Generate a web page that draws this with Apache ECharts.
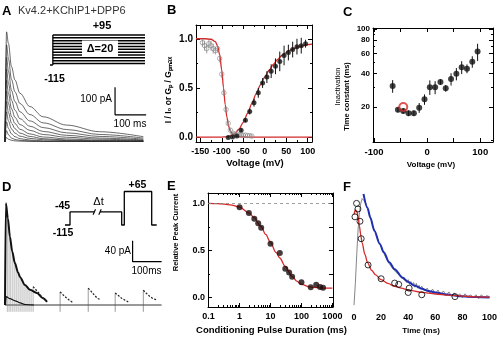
<!DOCTYPE html>
<html><head><meta charset="utf-8">
<script src="https://cdn.jsdelivr.net/npm/echarts@6/dist/echarts.min.js"></script>
<style>html,body{margin:0;padding:0;background:#fff}#c{width:500px;height:338px}</style>
</head><body><div id="c"></div>
<script>
// ================= DATA =================
// Panel A: current traces (time ms, current pA)
const aTime = [0, 5, 11, 21, 32, 48, 80, 123, 198, 305, 445];
const aTrace1 = [0, 397, 355, 271, 223, 175, 127, 90, 60, 36, 18];
const aTrace2 = [0, 350, 300, 225, 180, 138, 98, 68, 44, 26, 13];
const aTrace3 = [0, 305, 255, 185, 145, 108, 75, 51, 32, 19, 9];
const aTrace4 = [0, 262, 212, 150, 114, 83, 56, 37, 23, 13, 6];
const aTrace5 = [0, 222, 174, 119, 88, 62, 41, 26, 16, 9, 4];
const aTrace6 = [0, 182, 138, 91, 66, 45, 28, 17, 10, 5, 3];
const aTrace7 = [0, 145, 105, 67, 47, 31, 19, 11, 6, 3, 2];
const aTrace8 = [0, 108, 75, 46, 31, 20, 12, 7, 4, 2, 1];
const aTrace9 = [0, 72, 48, 28, 18, 11, 6, 3, 2, 1, 0];
const aTrace10 = [0, 40, 25, 13, 8, 5, 3, 1, 1, 0, 0];
const aTrace11 = [0, 15, 9, 5, 3, 2, 1, 0, 0, 0, 0];
const aScale = {t: 354, i: 97, dt: 100, di: 100};
// Panel A protocol (mV)
const aHolding = -115;
const aStepLevels = [-105, -85, -65, -45, -25, -5, 15, 35, 55, 75, 95];
const aProtoT = [0, 3, 100];

// Panel B: inactivation (open) and activation (filled)
const bInactV = [-145,-140,-135,-130,-125,-120,-115,-110,-105,-100,-95,-90,-85,-80,-75,-70,-65,-60,-55,-50,-45,-40,-35,-30];
const bInactI = [0.96,0.93,0.9,0.95,0.93,0.9,0.88,0.9,0.8,0.64,0.45,0.28,0.14,0.07,0.04,0.03,0.03,0.02,0.02,0.02,0.02,0.015,0.015,0.01];
const bInactErr = [0.04,0.05,0.05,0.04,0.05,0.05,0.04,0.04,0.04,0.04,0.03,0.03,0.02,0.02,0.01,0.01,0.01,0.01,0.01,0.01,0.01,0.01,0.01,0.01];
const bActV = [-85,-75,-65,-55,-45,-35,-25,-15,-5,5,15,25,35,45,55,65,75,85,95];
const bActG = [-0.005,0.0,0.01,0.07,0.17,0.26,0.35,0.45,0.55,0.61,0.67,0.72,0.77,0.83,0.86,0.89,0.92,0.93,0.95];
const bActErr = [0.01,0.01,0.01,0.02,0.02,0.03,0.04,0.05,0.05,0.06,0.07,0.08,0.1,0.1,0.08,0.08,0.08,0.08,0.04];
const bInactFitV = [-160,-140,-125,-115,-110,-105,-100,-96,-92,-88,-84,-80,-74,-66,-55,-40,110];
const bInactFitY = [1,1,0.995,0.97,0.93,0.84,0.68,0.5,0.33,0.2,0.11,0.06,0.025,0.008,0.002,0,0];
const bActFitV = [-160,-100,-90,-80,-70,-60,-50,-40,-30,-20,-10,0,10,20,30,40,50,60,70,80,90,100,110];
const bActFitY = [0,0,0.003,0.012,0.035,0.08,0.15,0.24,0.34,0.44,0.53,0.61,0.68,0.74,0.79,0.83,0.86,0.885,0.905,0.92,0.93,0.94,0.945];
const bXTicks = [-150,-100,-50,0,50,100];
const bYTicks = [0, 0.5, 1.0];

// Panel C: inactivation time constant (ms) vs voltage
const cV = [-65,-55,-45,-35,-25,-15,-5,5,15,25,35,45,55,65,75,85,95];
const cTau = [30.8,18.9,18.4,17.6,17.6,19.7,23.4,30.1,30.0,33.5,29.4,35.6,39.6,45.4,44.1,50.9,62.7];
const cErr = [4,1,1,1,1,2,2.5,4.5,4,2,2,4.5,5,6,4,6,11];
const cRefV = [-45];
const cRefTau = [20];
const cXTicks = [-100, 0, 100];
const cYTicks = [20, 40, 60, 80, 100];
const cYMinor = [10, 30, 50, 70, 90];

// Panel D: traces (time ms, pA)
const dEnvT = [0, 3, 10, 17, 25, 34, 45, 52, 69, 86, 110, 131, 145];
const dEnvI = [0, 194, 165, 130, 102, 80, 62, 53, 38, 29, 23, 13, 6];
const dLowT = [2, 4, 17, 35, 52, 70, 100];
const dLowI = [0, 16, 12, 8, 4, 1, 0];
const dP1T = [97,105,115,125,135,145], dP1I = [35,30,24,17,11,6];
const dP2T = [190,201,213,225,236], dP2I = [25,19,13,8,4];
const dP3T = [287,297,308,318,329], dP3I = [32,26,19,13,10];
const dP4T = [380,391,402,414,425], dP4I = [23,18,13,9,6];
const dP5T = [477,488,500,511,523], dP5I = [28,22,16,12,10];
const dTransT = [8,14,20,27,34,41,48,55,62,69,76,83,90,97,190,287,380,477];
const dTransTop = [175,140,118,96,80,68,57,50,44,38,34,31,28,35,25,32,23,28];
const dTransBottom = -13;
const dBaseT = [0, 540];
const dScale = {t: 440, i: 82.5, dt: 100, di: 40};
// Panel D protocol (arbitrary time units, mV)
const dProtoT1 = [5, 10, 10, 34.3], dProtoV1 = [-115, -115, -45, -45];
const dProtoT2 = [40, 61.7, 61.7, 64.3, 64.3, 91.7, 91.7, 96.7];
const dProtoV2 = [-45, -45, -115, -115, 65, 65, -115, -115];
const dBreakT = [34.3, 40];

// Panel E: relative peak current vs conditioning duration (ms)
const eT = [1,2,3,4,5,10,20,30,40,50,100,200,300,400,500];
const eY = [0.958,0.897,0.837,0.788,0.742,0.572,0.473,0.307,0.265,0.222,0.163,0.11,0.135,0.113,0.103];
const eFitT = [0.1,0.2,0.5,1,2,3,5,7,10,15,20,30,50,70,100,200,500,1000];
const eFitY = [1.0,0.997,0.985,0.96,0.9,0.845,0.75,0.67,0.585,0.48,0.42,0.33,0.225,0.175,0.14,0.11,0.1,0.1];
const eXTicks = [0.1, 1, 10, 100, 1000];

// Panel F: normalized time courses (ms)
const fCircT = [0.7,1.9,2.9,4.4,5.3,10.4,20,30,33,40,40.7,50,74.5];
const fCircY = [0.857,1.0,0.94,0.81,0.625,0.346,0.2,0.154,0.14,0.054,0.1,0.03,0.01];
const fBlueT = [7,10,12,15,19,22,26,30,36,40,45,50,55,60,67,73,79,90,100];
const fBlueY = [1.1,0.95,0.85,0.71,0.57,0.48,0.375,0.3,0.21,0.165,0.125,0.095,0.07,0.055,0.036,0.025,0.014,0.006,0.0];
const fRedT = [0,1,2,3,4,5,6,8,10,13,16,20,25,30,35,40,50,60,70,80,90,100];
const fRedY = [0.88,0.93,0.92,0.86,0.76,0.66,0.58,0.46,0.37,0.29,0.24,0.19,0.15,0.12,0.1,0.08,0.055,0.038,0.025,0.015,0.008,0.005];
const fTraceT = [0,1,2,3,4,5,6,7,8,9,10,11,12,13,14,15,16,17,18,19,20,21,22,23,24,25,26,27,28,29,30,31,32,33,34,35,36,37,38,39,40,41,42,43,44,45,46,47,48,49,50,52,54,56,58,60,62,64,66,68,70,72,74,76,78,80,82,84,86,88,90,92,94,96,98,100];
const fTraceY = [-0.08,0.15,0.45,0.72,0.9,1.0,1.05,1.06,1.02,0.99,0.95,0.9,0.86,0.81,0.76,0.72,0.69,0.65,0.6,0.58,0.55,0.5,0.49,0.44,0.43,0.38,0.39,0.34,0.35,0.3,0.31,0.27,0.28,0.24,0.25,0.21,0.23,0.19,0.2,0.16,0.19,0.14,0.17,0.13,0.16,0.11,0.15,0.1,0.13,0.09,0.12,0.07,0.1,0.05,0.09,0.04,0.08,0.03,0.07,0.02,0.06,0.02,0.05,0.01,0.04,0.0,0.04,0.0,0.03,0.0,0.03,-0.01,0.03,0.0,0.02,0.01];
const fXTicks = [0, 20, 40, 60, 80, 100];

// ================= BUILD =================
const FONT = '"Liberation Sans", Arial, sans-serif';
const RED = '#d42a2a', BLUE = '#1f2fb0';
const zip = (a, b) => a.map((v, i) => [v, b[i]]);
const lg = Math.log10;

const grids = [
  {left: 5, top: 31, width: 143, height: 110.7},     // 0 A traces
  {left: 50, top: 35, width: 95, height: 30},        // 1 A protocol
  {left: 196, top: 25, width: 116, height: 117},     // 2 B
  {left: 373, top: 28, width: 120, height: 114},     // 3 C
  {left: 5, top: 200, width: 156.6, height: 115.5},  // 4 D traces
  {left: 60, top: 191.5, width: 100, height: 33.5},  // 5 D protocol
  {left: 208, top: 193, width: 125, height: 114},    // 6 E
  {left: 354, top: 193, width: 137.7, height: 114}   // 7 F
].map(g => Object.assign({show: false}, g));

const xAxes = [], yAxes = [];
function mkAxis(arr, grid, pos, min, max, o) {
  o = o || {};
  arr.push({
    type: 'value', gridIndex: grid, position: pos, min: min, max: max,
    axisLine: {show: !!o.line, onZero: false, lineStyle: {color: '#000', width: 1}},
    axisTick: o.ticks ? {show: true, inside: true, length: o.tickLen || 4, customValues: o.ticks, lineStyle: {color: '#000', width: 1}} : {show: false},
    axisLabel: o.labels ? {show: true, customValues: o.labels, formatter: o.fmt, margin: o.margin || 4,
      color: '#000', fontFamily: FONT, fontWeight: 'bold', fontSize: o.fs || 10} : {show: false},
    splitLine: {show: false}, minorTick: {show: false}, minorSplitLine: {show: false}
  });
  return arr.length - 1;
}
const fmt1 = v => (+v).toFixed(1);
const fmtPow = v => { const n = Math.pow(10, v); return n < 1 ? n.toFixed(1) : String(Math.round(n)); };

// A
const xA = mkAxis(xAxes, 0, 'bottom', 0, 460), yA = mkAxis(yAxes, 0, 'left', 0, 400);
const xAP = mkAxis(xAxes, 1, 'bottom', 0, 100), yAP = mkAxis(yAxes, 1, 'left', -115, 95);
// B
const bMinX = [-125,-75,-25,25,75];
const xB = mkAxis(xAxes, 2, 'bottom', -160, 110, {line: true, ticks: bXTicks, labels: bXTicks, fmt: v => String(v), fs: 9, margin: 5});
mkAxis(xAxes, 2, 'bottom', -160, 110, {ticks: bMinX, tickLen: 2});
mkAxis(xAxes, 2, 'top', -160, 110, {line: true, ticks: bXTicks});
mkAxis(xAxes, 2, 'top', -160, 110, {ticks: bMinX, tickLen: 2});
const yB = mkAxis(yAxes, 2, 'left', -0.05, 1.14, {line: true, ticks: bYTicks, labels: bYTicks, fmt: fmt1, fs: 10, margin: 3});
mkAxis(yAxes, 2, 'left', -0.05, 1.14, {ticks: [0.25, 0.75], tickLen: 2});
mkAxis(yAxes, 2, 'right', -0.05, 1.14, {line: true, ticks: bYTicks});
mkAxis(yAxes, 2, 'right', -0.05, 1.14, {ticks: [0.25, 0.75], tickLen: 2});
// C (log10 of ms)
const cMinY = lg(9.7), cMaxY = lg(102);
const xC = mkAxis(xAxes, 3, 'bottom', -102, 124, {line: true, ticks: [-100,-50,0,50,100], labels: cXTicks, fmt: v => String(v), fs: 9.5, margin: 5});
mkAxis(xAxes, 3, 'top', -102, 124, {line: true, ticks: [-100,-50,0,50,100]});
const yC = mkAxis(yAxes, 3, 'left', cMinY, cMaxY, {line: true, ticks: cYTicks.map(lg), labels: cYTicks.map(lg), fmt: v => String(Math.round(Math.pow(10, v))), fs: 8, margin: 3});
mkAxis(yAxes, 3, 'left', cMinY, cMaxY, {ticks: cYMinor.map(lg), tickLen: 2});
mkAxis(yAxes, 3, 'right', cMinY, cMaxY, {line: true, ticks: cYTicks.map(lg)});
mkAxis(yAxes, 3, 'right', cMinY, cMaxY, {ticks: cYMinor.map(lg), tickLen: 2});
// D
const xD = mkAxis(xAxes, 4, 'bottom', 0, 540), yD = mkAxis(yAxes, 4, 'left', -20, 200);
const xDP = mkAxis(xAxes, 5, 'bottom', 0, 100), yDP = mkAxis(yAxes, 5, 'left', -115, 65);
// E (log10 of ms)
const eMinorVals = [];
[0.1, 1, 10, 100].forEach(d => { for (let k = 2; k <= 9; k++) eMinorVals.push(lg(k * d)); });
const eMaj = eXTicks.map(lg);
const xE = mkAxis(xAxes, 6, 'bottom', -1.02, 3.02, {line: true, ticks: eMaj, labels: eMaj, fmt: fmtPow, fs: 9, margin: 5});
mkAxis(xAxes, 6, 'bottom', -1.02, 3.02, {ticks: eMinorVals, tickLen: 2});
mkAxis(xAxes, 6, 'top', -1.02, 3.02, {line: true, ticks: eMaj});
mkAxis(xAxes, 6, 'top', -1.02, 3.02, {ticks: eMinorVals, tickLen: 2});
const yE = mkAxis(yAxes, 6, 'left', -0.1, 1.11, {line: true, ticks: bYTicks, labels: bYTicks, fmt: fmt1, fs: 9, margin: 3});
mkAxis(yAxes, 6, 'left', -0.1, 1.11, {ticks: [0.25, 0.75], tickLen: 2});
mkAxis(yAxes, 6, 'right', -0.1, 1.11, {line: true, ticks: [0, 0.25, 0.5, 0.75, 1.0]});
// F
const xF = mkAxis(xAxes, 7, 'bottom', 0, 100, {labels: fXTicks, fmt: v => String(v), fs: 9, margin: 6});
const yF = mkAxis(yAxes, 7, 'left', -0.1, 1.11);

const series = [];
function line(xi, yi, pts, color, width, extra) {
  series.push(Object.assign({type: 'line', xAxisIndex: xi, yAxisIndex: yi, data: pts, symbol: 'none', showSymbol: false,
    lineStyle: {color: color, width: width}, silent: true, animation: false}, extra || {}));
}
function scatter(xi, yi, pts, size, item, z) {
  series.push({type: 'scatter', xAxisIndex: xi, yAxisIndex: yi, data: pts, symbol: 'circle', symbolSize: size,
    itemStyle: item, silent: true, animation: false, z: z || 4});
}
function errBars(xi, yi, rows, color, width) {
  series.push({type: 'custom', xAxisIndex: xi, yAxisIndex: yi, data: rows, encode: {x: 0, y: [1, 2]}, silent: true, animation: false, z: 3,
    renderItem: (p, api) => {
      const a = api.coord([api.value(0), api.value(1)]);
      const b = api.coord([api.value(0), api.value(2)]);
      return {type: 'line', shape: {x1: a[0], y1: a[1], x2: b[0], y2: b[1]}, style: {stroke: color, lineWidth: width}};
    }});
}

// ---- A traces
[aTrace1, aTrace2, aTrace3, aTrace4, aTrace5, aTrace6, aTrace7, aTrace8, aTrace9, aTrace10, aTrace11].forEach(tr =>
  line(xA, yA, zip(aTime, tr), '#2a2a2a', 0.7, {smooth: 0.35, smoothMonotone: 'x'}));
line(xA, yA, [[aScale.t, aScale.i + aScale.di], [aScale.t, aScale.i], [aScale.t + aScale.dt, aScale.i]], '#000', 1.2, {clip: false});
// ---- A protocol
line(xAP, yAP, [[aProtoT[0], aHolding], [aProtoT[1], aHolding]], '#000', 1.3, {clip: false});
line(xAP, yAP, [[aProtoT[1], aHolding], [aProtoT[1], aStepLevels[aStepLevels.length - 1]]], '#000', 1.3, {clip: false});
aStepLevels.forEach(v => line(xAP, yAP, [[aProtoT[1], v], [aProtoT[2], v]], '#000', 1.5, {clip: false}));

// ---- B
line(xB, yB, zip(bInactFitV, bInactFitY), RED, 1.3, {smooth: 0.3, smoothMonotone: 'x', z: 2});
line(xB, yB, zip(bActFitV, bActFitY), RED, 1.3, {smooth: 0.3, smoothMonotone: 'x', z: 2});
errBars(xB, yB, bInactV.map((v, i) => [v, bInactI[i] - bInactErr[i], bInactI[i] + bInactErr[i]]), '#888', 0.8);
scatter(xB, yB, zip(bInactV, bInactI), 4.5, {color: 'rgba(255,255,255,0)', borderColor: '#888', borderWidth: 0.8});
errBars(xB, yB, bActV.map((v, i) => [v, bActG[i] - bActErr[i], bActG[i] + bActErr[i]]), '#111', 1);
scatter(xB, yB, zip(bActV, bActG), 5, {color: '#111'});

// ---- C
errBars(xC, yC, cV.map((v, i) => [v, lg(cTau[i] - cErr[i]), lg(cTau[i] + cErr[i])]), '#111', 1);
scatter(xC, yC, cV.map((v, i) => [v, lg(cTau[i])]), 6, {color: '#111'});
scatter(xC, yC, cRefV.map((v, i) => [v, lg(cRefTau[i])]), 8, {color: 'rgba(255,255,255,0)', borderColor: RED, borderWidth: 2}, 5);

// ---- D traces
line(xD, yD, [[dBaseT[0], 0], [dBaseT[1], 0]], '#777', 1.5);
dTransT.forEach((t, i) => line(xD, yD, [[t, dTransBottom], [t, dTransTop[i]]], i < 14 ? '#888' : '#555', 0.6));
line(xD, yD, zip(dLowT, dLowI), '#111', 1.2, {smooth: 0.3, smoothMonotone: 'x'});
line(xD, yD, zip(dEnvT, dEnvI), '#111', 2, {smooth: 0.3, smoothMonotone: 'x'});
[[dP1T, dP1I], [dP2T, dP2I], [dP3T, dP3I], [dP4T, dP4I], [dP5T, dP5I]].forEach(p =>
  line(xD, yD, zip(p[0], p[1]), '#222', 1.2, {lineStyle: {color: '#222', width: 1.2, type: [2, 1.5]}}));
line(xD, yD, [[dScale.t, dScale.i + dScale.di], [dScale.t, dScale.i], [dScale.t + dScale.dt, dScale.i]], '#000', 1.2, {clip: false});
// ---- D protocol
line(xDP, yDP, zip(dProtoT1, dProtoV1), '#000', 1.3, {clip: false});
line(xDP, yDP, zip(dProtoT2, dProtoV2), '#000', 1.3, {clip: false});
dBreakT.forEach(c => line(xDP, yDP, [[c - 1.2, -60], [c + 1.2, -30]], '#000', 1.1, {clip: false}));

// ---- E
line(xE, yE, eFitT.map((t, i) => [lg(t), eFitY[i]]), RED, 1.3, {smooth: 0.3, smoothMonotone: 'x', z: 2,
  markLine: {silent: true, symbol: 'none', animation: false, label: {show: false},
    lineStyle: {color: '#888', width: 0.8, type: [3, 3]}, data: [{yAxis: 1}]}});
scatter(xE, yE, eT.map((t, i) => [lg(t), eY[i]]), 6, {color: '#1a0a0a'});

// ---- F
line(xF, yF, zip(fTraceT, fTraceY), '#666', 0.8);
line(xF, yF, zip(fBlueT, fBlueY), BLUE, 2, {smooth: 0.3, smoothMonotone: 'x'});
line(xF, yF, zip(fRedT, fRedY), RED, 1.3, {smooth: 0.3, smoothMonotone: 'x'});
scatter(xF, yF, zip(fCircT, fCircY), 6, {color: 'rgba(255,255,255,0)', borderColor: '#000', borderWidth: 1});

// ---- texts
const texts = [
  ['A', 2, 11, 'bold 13px', 'left'],
  ['Kv4.2+KChIP1+DPP6', 18, 10.5, '11px', 'left', '#333'],
  ['B', 167, 10.5, 'bold 13px', 'left'],
  ['C', 343, 12, 'bold 13px', 'left'],
  ['D', 2, 187.5, 'bold 13px', 'left'],
  ['E', 167, 186, 'bold 13px', 'left'],
  ['F', 343, 187.5, 'bold 13px', 'left'],
  ['+95', 102, 26, 'bold 11px', 'center'],
  ['\u0394=20', 100, 48.5, 'bold 11px', 'center'],
  ['-115', 54.5, 79, 'bold 10.5px', 'center'],
  ['100 pA', 112, 99.5, '10px', 'right'],
  ['100 ms', 130, 124, '10px', 'center'],
  ['-45', 62.5, 206, 'bold 10.5px', 'center'],
  ['-115', 63, 233, 'bold 10.5px', 'center'],
  ['\u0394t', 98.5, 202, '11px', 'center'],
  ['+65', 137.5, 185.5, 'bold 10.5px', 'center'],
  ['40 pA', 131, 251, '10px', 'right'],
  ['100ms', 146.5, 271, '10px', 'center'],
  ['Voltage (mV)', 255, 163.5, 'bold 9.5px', 'center'],
  ['Voltage (mV)', 431, 165, 'bold 8px', 'center'],
  ['Conditioning Pulse Duration (ms)', 271.5, 330, 'bold 9.5px', 'center'],
  ['Time (ms)', 421, 331, 'bold 8px', 'center'],
  ['I / I\u2080 or G\u209a / G\u209a\u2098\u2090\u2093', 168.5, 90, 'bold 8.5px', 'center', '#000', true],
  ['Inactivation', 337.5, 86.5, '7.5px', 'center', '#000', true],
  ['Time constant (ms)', 347, 96.5, 'bold 7.5px', 'center', '#000', true],
  ['Relative Peak Current', 175.5, 232.5, 'bold 7.5px', 'center', '#000', true]
];
const graphic = [
  {type: 'rect', z: 50, shape: {x: 82, y: 40.5, width: 36, height: 16}, style: {fill: '#fff'}}
].concat(texts.map(t => ({
  type: 'text', z: 100, x: t[1], y: t[2], rotation: t[6] ? Math.PI / 2 : 0,
  style: {text: t[0], font: t[3] + ' ' + FONT, fill: t[5] || '#000', align: t[4], verticalAlign: 'middle'}
})));

const chart = echarts.init(document.getElementById('c'), null, {renderer: 'canvas'});
chart.setOption({
  animation: false, backgroundColor: '#fff',
  grid: grids, xAxis: xAxes, yAxis: yAxes, series: series, graphic: graphic
});
</script></body></html>
